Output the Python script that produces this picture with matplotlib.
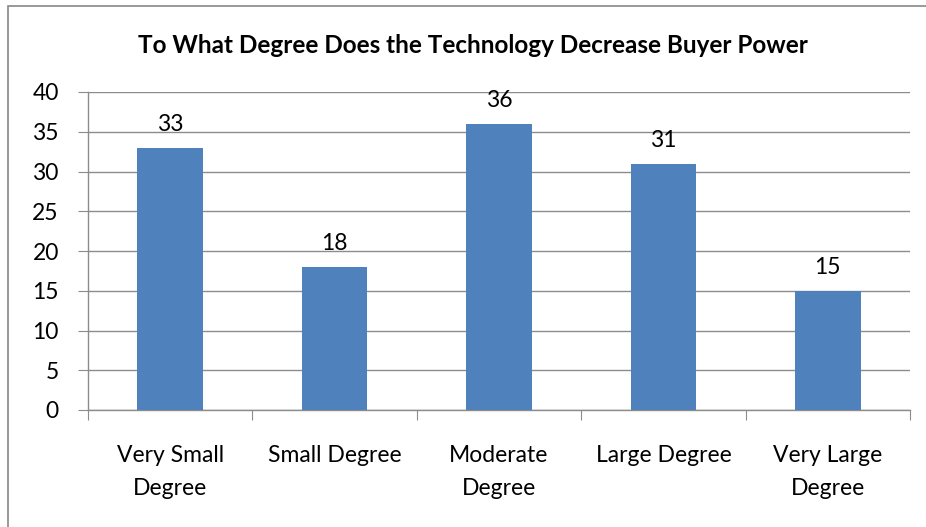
import numpy as np
import matplotlib.pyplot as plt
from matplotlib.patches import Rectangle

categories = ["Very Small\nDegree", "Small Degree", "Moderate\nDegree", "Large Degree", "Very Large\nDegree"]
values = [33, 18, 36, 31, 15]
yticks = [0, 5, 10, 15, 20, 25, 30, 35, 40]

plt.rcParams['font.family'] = ['Lato', 'DejaVu Sans']

fig = plt.figure(figsize=(9.26, 5.27), dpi=100)
ax = fig.add_axes([88/926, 1-410/527, (910-88)/926, (410-92)/527])

# chart border
fig.patches.append(Rectangle((8/926, -0.05), 1.2, 1-6/527+0.05, transform=fig.transFigure,
                             fill=False, edgecolor='#888888', linewidth=1.2))

x = np.arange(len(values))
ax.bar(x, values, width=0.4, color='#4F81BD', zorder=3)
for xi, v in zip(x, values):
    ax.text(xi, v + 1.6, str(v), ha='center', va='bottom', fontsize=16.5)

ax.set_xlim(-0.5, len(values) - 0.5)
ax.set_ylim(0, 40)
ax.set_yticks(yticks)
ax.set_yticklabels([str(t) for t in yticks], fontsize=16.5)
ax.yaxis.grid(True, color='#8c8c8c', linewidth=1.0, zorder=0)
ax.set_axisbelow(True)

ax.set_xticks(np.arange(-0.5, len(values), 1.0))
ax.set_xticklabels([])
ax.set_xticks(x, minor=True)
ax.set_xticklabels(categories, minor=True, fontsize=16.5, linespacing=1.7)
ax.tick_params(axis='x', which='minor', length=0, pad=25)
ax.tick_params(axis='x', which='major', length=7, color='#8c8c8c', direction='out')
ax.tick_params(axis='y', length=7, color='#8c8c8c', direction='out', pad=14)

for s in ['top', 'right']:
    ax.spines[s].set_visible(False)
for s in ['left', 'bottom']:
    ax.spines[s].set_color('#8c8c8c')
    ax.spines[s].set_linewidth(1.0)

fig.text(473/926, 1 - 45/527, "To What Degree Does the Technology Decrease Buyer Power",
         ha='center', va='center', fontsize=17.5, fontweight='bold')

fig.savefig('out.png', dpi=100)
